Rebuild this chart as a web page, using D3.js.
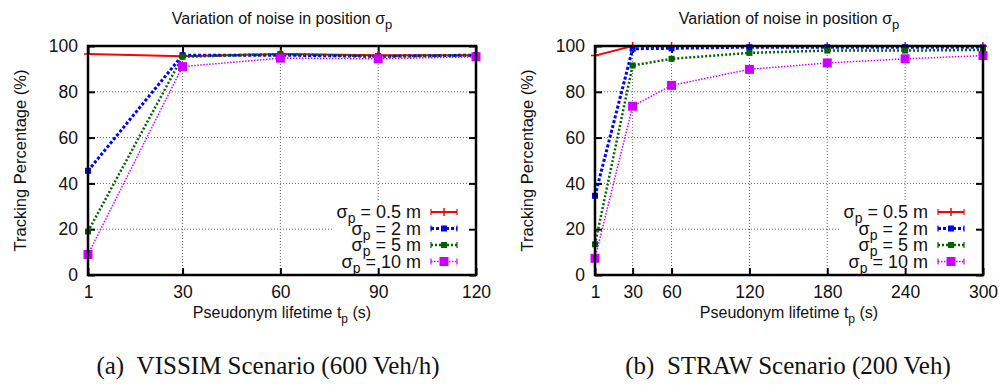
<!DOCTYPE html>
<html lang="en">
<head>
  <meta charset="UTF-8">
  <title>Tracking percentage vs pseudonym lifetime</title>
  <script src="https://d3js.org/d3.v7.min.js"></script>
  <style>
    body { margin: 0; background: #fff; }
    text { font-family: "Liberation Sans", Arial, sans-serif; fill: #111; }
    .caption { font-family: "Liberation Serif", "DejaVu Serif", serif; }
  </style>
</head>
<body>
  <script>
    // VISSIM scenario (600 Veh/h)
    const vissimX = [1, 30, 60, 90, 120];
    const vissimTicks = [1, 30, 60, 90, 120];
    const vissim05 = [96.5, 95.5, 96.5, 96, 96];
    const vissim2 = [45.5, 96, 96, 95.5, 96];
    const vissim5 = [19, 95.3, 96.5, 95.5, 96];
    const vissim10 = [9, 91, 94.7, 94.4, 95.3];

    // STRAW scenario (200 Veh)
    const strawX = [1, 30, 60, 120, 180, 240, 300];
    const strawTicks = [1, 30, 60, 120, 180, 240, 300];
    const straw05 = [95.8, 100, 100, 100, 100, 100, 100];
    const straw2 = [34.6, 98.8, 99, 99.5, 99.5, 99.5, 99.4];
    const straw5 = [13.4, 91.5, 94.4, 97, 98, 98, 98.3];
    const straw10 = [7.3, 73.7, 82.8, 89.8, 92.6, 94.4, 95.8];

    const yTicks = [0, 20, 40, 60, 80, 100];
    const seriesNames = ["0.5 m", "2 m", "5 m", "10 m"];

    const styles = [
      { color: "#ff0000", width: 2, dash: null, marker: "plus", size: 4 },
      { color: "#0000ff", width: 3, dash: "3,2", marker: "square", size: 6 },
      { color: "#006400", width: 2.5, dash: "2,2", marker: "square", size: 6 },
      { color: "#cc00ff", width: 1.5, dash: "1.5,1.5", marker: "square", size: 9 }
    ];

    const W = 999, H = 385;
    const svg = d3.select("body").append("svg")
      .attr("width", W).attr("height", H);

    const panels = [
      { left: 88, right: 476, xs: vissimX, ticks: vissimTicks, domain: [1, 120], capX: 268,
        series: [vissim05, vissim2, vissim5, vissim10], caption: "(a)\u2002VISSIM Scenario (600 Veh/h)" },
      { left: 595, right: 983, xs: strawX, ticks: strawTicks, domain: [1, 300], capX: 788,
        series: [straw05, straw2, straw5, straw10], caption: "(b)\u2002STRAW Scenario (200 Veh)" }
    ];

    const plotTop = 46, plotBottom = 275;

    panels.forEach(p => {
      const x = d3.scaleLinear().domain(p.domain).range([p.left, p.right]);
      const y = d3.scaleLinear().domain([0, 100]).range([plotBottom, plotTop]);
      const g = svg.append("g");
      const cx = (p.left + p.right) / 2;

      // grid
      const grid = g.append("g")
        .attr("stroke", "#666").attr("stroke-width", 1).attr("stroke-dasharray", "1,2");
      grid.selectAll(".gy").data(yTicks.slice(1, -1)).join("line")
        .attr("x1", p.left).attr("x2", p.right)
        .attr("y1", d => y(d)).attr("y2", d => y(d));
      grid.selectAll(".gx").data(p.ticks.slice(1, -1)).join("line")
        .attr("y1", plotTop).attr("y2", plotBottom)
        .attr("x1", d => x(d)).attr("x2", d => x(d));

      // legend background (hides grid)
      const lx = p.right - 143, ly = 201;
      g.append("rect").attr("x", lx).attr("y", ly)
        .attr("width", p.right - lx - 2).attr("height", plotBottom - ly - 1)
        .attr("fill", "#fff");

      // axes with ticks on both sides
      const tickLen = 7;
      g.append("g").attr("transform", `translate(0,${plotBottom})`)
        .call(d3.axisBottom(x).tickValues(p.ticks).tickSize(-tickLen).tickPadding(11))
        .call(a => a.select(".domain").remove())
        .call(a => a.selectAll("line").attr("stroke-width", 2))
        .call(a => a.selectAll("text").attr("font-size", 17.5).attr("font-family", "Liberation Sans"));
      g.append("g").attr("transform", `translate(0,${plotTop})`)
        .call(d3.axisTop(x).tickValues(p.ticks).tickSize(-tickLen).tickFormat(""))
        .call(a => a.select(".domain").remove())
        .call(a => a.selectAll("line").attr("stroke-width", 2));
      g.append("g").attr("transform", `translate(${p.left},0)`)
        .call(d3.axisLeft(y).tickValues(yTicks).tickSize(-tickLen).tickPadding(10))
        .call(a => a.select(".domain").remove())
        .call(a => a.selectAll("line").attr("stroke-width", 2))
        .call(a => a.selectAll("text").attr("font-size", 17.5).attr("font-family", "Liberation Sans"));
      g.append("g").attr("transform", `translate(${p.right},0)`)
        .call(d3.axisRight(y).tickValues(yTicks).tickSize(-tickLen).tickFormat(""))
        .call(a => a.select(".domain").remove())
        .call(a => a.selectAll("line").attr("stroke-width", 2));

      // series
      p.series.forEach((vals, i) => {
        const s = styles[i];
        const pts = vals.map((v, j) => [p.xs[j], v]);
        const line = d3.line().x(d => x(d[0])).y(d => y(d[1]));
        g.append("path").datum(pts)
          .attr("fill", "none").attr("stroke", s.color)
          .attr("stroke-width", s.width)
          .attr("stroke-dasharray", s.dash)
          .attr("d", line);
        drawMarkers(g, pts.map(d => [x(d[0]), y(d[1])]), s);
      });

      // frame
      g.append("rect").attr("x", p.left).attr("y", plotTop)
        .attr("width", p.right - p.left).attr("height", plotBottom - plotTop)
        .attr("fill", "none").attr("stroke", "#000").attr("stroke-width", 2.5);

      // legend
      seriesNames.forEach((name, i) => {
        const s = styles[i];
        const yy = 212 + i * 16.5;
        const t = g.append("text").attr("x", p.right - 55).attr("y", yy + 6)
          .attr("text-anchor", "end").attr("font-size", 18);
        t.append("tspan").text("\u03c3");
        t.append("tspan").attr("dy", 5).attr("font-size", 14).text("p");
        t.append("tspan").attr("dy", -5).text(" = " + name);
        const sx1 = p.right - 45, sx2 = p.right - 19;
        g.append("line").attr("x1", sx1).attr("x2", sx2).attr("y1", yy).attr("y2", yy)
          .attr("stroke", s.color).attr("stroke-width", s.width)
          .attr("stroke-dasharray", s.dash);
        [sx1, sx2].forEach(ex => g.append("line").attr("x1", ex).attr("x2", ex)
          .attr("y1", yy - 3).attr("y2", yy + 3)
          .attr("stroke", s.color).attr("stroke-width", 1.2));
        drawMarkers(g, [[(sx1 + sx2) / 2, yy]], s);
      });

      // titles
      const title = g.append("text").attr("x", cx).attr("y", 24)
        .attr("text-anchor", "middle").attr("font-size", 16);
      title.append("tspan").text("Variation of noise in position \u03c3");
      title.append("tspan").attr("dy", 5).attr("font-size", 13).text("p");

      const xt = g.append("text").attr("x", cx).attr("y", 318)
        .attr("text-anchor", "middle").attr("font-size", 16);
      xt.append("tspan").text("Pseudonym lifetime t");
      xt.append("tspan").attr("dy", 5).attr("font-size", 12).text("p");
      xt.append("tspan").attr("dy", -5).text(" (s)");

      g.append("text")
        .attr("transform", `translate(${p.left - 62},${(plotTop + plotBottom) / 2}) rotate(-90)`)
        .attr("text-anchor", "middle").attr("font-size", 16.5)
        .text("Tracking Percentage (%)");

      g.append("text").attr("class", "caption")
        .attr("x", p.capX).attr("y", 374)
        .attr("text-anchor", "middle").attr("font-size", 25)
        .text(p.caption);
    });

    function drawMarkers(g, pts, s) {
      pts.forEach(([px, py]) => {
        if (s.marker === "plus") {
          g.append("path")
            .attr("d", `M${px - s.size},${py}H${px + s.size}M${px},${py - s.size}V${py + s.size}`)
            .attr("stroke", s.color).attr("stroke-width", 1.5);
        } else {
          g.append("rect")
            .attr("x", px - s.size / 2).attr("y", py - s.size / 2)
            .attr("width", s.size).attr("height", s.size)
            .attr("fill", s.color);
        }
      });
    }
  </script>
</body>
</html>
